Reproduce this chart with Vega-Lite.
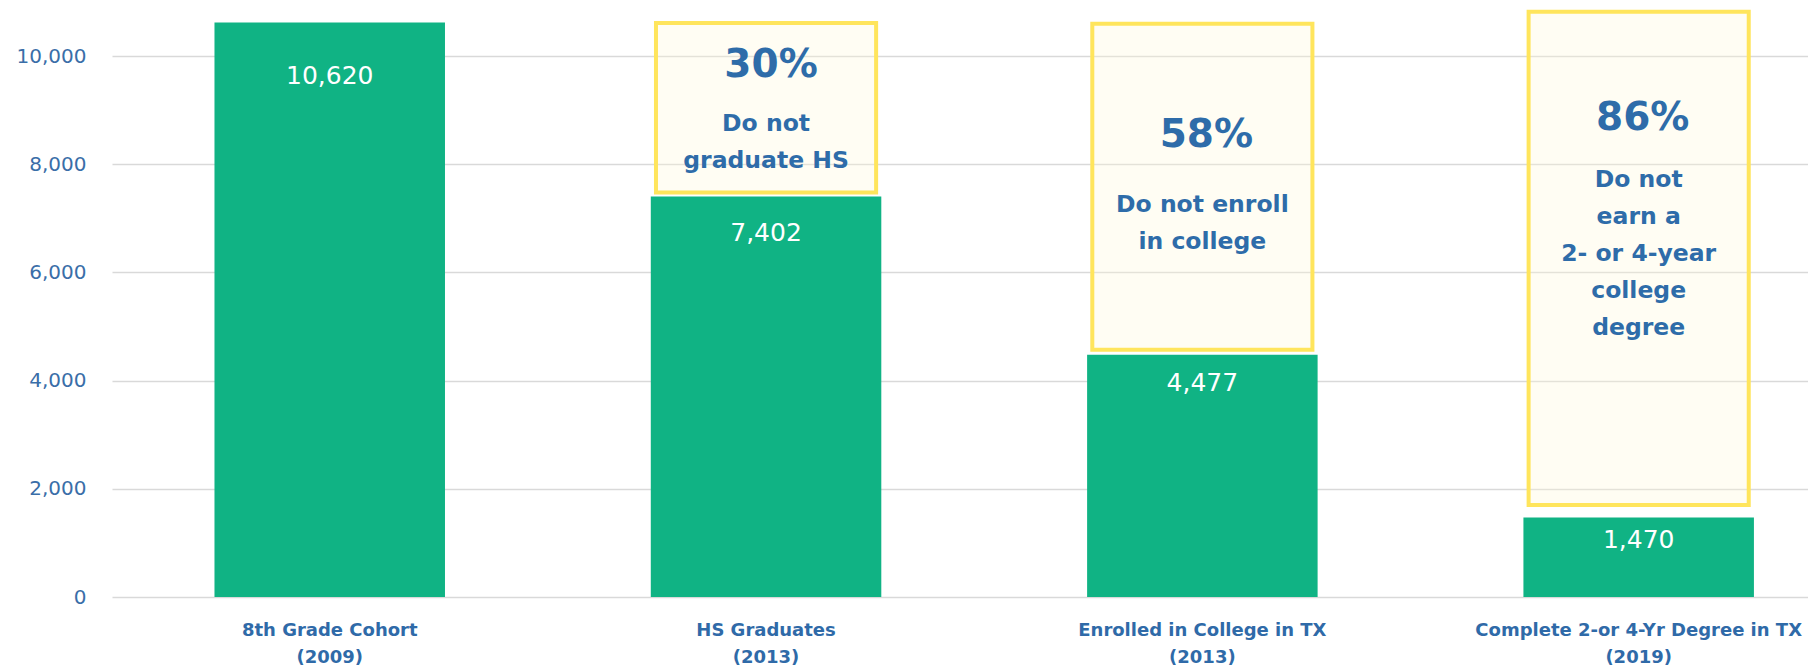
{
  "$schema": "https://vega.github.io/schema/vega-lite/v6.json",
  "width": 1696,
  "height": 595,
  "autosize": {"type": "none"},
  "padding": {"left": 112, "top": 2, "right": 0, "bottom": 69},
  "background": "white",
  "config": {"view": {"stroke": null}},
  "datasets": {
    "bars": [
      {"stage": "8th Grade Cohort (2009)", "value": 10620},
      {"stage": "HS Graduates (2013)", "value": 7402},
      {"stage": "Enrolled in College in TX (2013)", "value": 4477},
      {"stage": "Complete 2-or 4-Yr Degree in TX (2019)", "value": 1470}
    ],
    "notes": [
      {"stage": "HS Graduates (2013)", "pct": "30%", "desc": "Do not\ngraduate HS", "box_top": 10610, "box_bottom": 7480},
      {"stage": "Enrolled in College in TX (2013)", "pct": "58%", "desc": "Do not enroll\nin college", "box_top": 10600, "box_bottom": 4570},
      {"stage": "Complete 2-or 4-Yr Degree in TX (2019)", "pct": "86%", "desc": "Do not\nearn a\n2- or 4-year\ncollege\ndegree", "box_top": 10820, "box_bottom": 1700}
    ]
  },
  "data": {"name": "bars"},
  "encoding": {
    "x": {
      "field": "stage",
      "type": "nominal",
      "title": null,
      "scale": {
        "domain": ["8th Grade Cohort (2009)", "HS Graduates (2013)", "Enrolled in College in TX (2013)", "Complete 2-or 4-Yr Degree in TX (2019)"],
        "paddingInner": 0.4717,
        "paddingOuter": 0.1794,
        "align": 0.6546
      },
      "axis": {
        "labelExpr": "[slice(datum.label, 0, indexof(datum.label, ' (')), slice(datum.label, indexof(datum.label, ' (') + 1)]",
        "labelAngle": 0,
        "labelFont": "DejaVu Sans",
        "labelFontWeight": "bold",
        "labelFontSize": 18,
        "labelColor": "#2f6aa8",
        "labelPadding": 24,
        "labelLineHeight": 27,
        "labelLimit": 400,
        "labelOverlap": false,
        "ticks": false,
        "domain": false,
        "grid": false
      }
    }
  },
  "layer": [
    {
      "mark": {"type": "bar", "width": {"band": 0.955}, "fill": "#fff8d6", "fillOpacity": 0.3, "stroke": "#ffe55c", "strokeWidth": 4, "strokeOpacity": 1},
      "data": {"name": "notes"},
      "encoding": {
        "y": {"field": "box_top", "type": "quantitative", "title": null},
        "y2": {"field": "box_bottom"}
      }
    },
    {
      "mark": {"type": "bar", "color": "#10b384"},
      "encoding": {
        "y": {
          "field": "value",
          "type": "quantitative",
          "title": null,
          "scale": {"domain": [0, 11000], "nice": false},
          "axis": {
            "values": [0, 2000, 4000, 6000, 8000, 10000],
            "labelExpr": "format(datum.value, ',')",
            "title": null,
            "ticks": false,
            "domain": false,
            "gridColor": "#d9d9d9",
            "gridWidth": 1.5,
            "labelFont": "DejaVu Sans",
            "labelFontSize": 20,
            "labelColor": "#3a6ea8",
            "labelPadding": 26
          }
        }
      }
    },
    {
      "transform": [{"filter": {"field": "stage", "equal": "8th Grade Cohort (2009)"}}],
      "mark": {"type": "text", "font": "DejaVu Sans", "fontSize": 25, "fill": "#ffffff", "baseline": "middle", "dy": 53},
      "encoding": {"y": {"field": "value", "type": "quantitative", "title": null}, "text": {"field": "value", "type": "quantitative", "format": ","}}
    },
    {
      "transform": [{"filter": {"field": "stage", "equal": "HS Graduates (2013)"}}],
      "mark": {"type": "text", "font": "DejaVu Sans", "fontSize": 25, "fill": "#ffffff", "baseline": "middle", "dy": 36},
      "encoding": {"y": {"field": "value", "type": "quantitative", "title": null}, "text": {"field": "value", "type": "quantitative", "format": ","}}
    },
    {
      "transform": [{"filter": {"field": "stage", "equal": "Enrolled in College in TX (2013)"}}],
      "mark": {"type": "text", "font": "DejaVu Sans", "fontSize": 25, "fill": "#ffffff", "baseline": "middle", "dy": 28},
      "encoding": {"y": {"field": "value", "type": "quantitative", "title": null}, "text": {"field": "value", "type": "quantitative", "format": ","}}
    },
    {
      "transform": [{"filter": {"field": "stage", "equal": "Complete 2-or 4-Yr Degree in TX (2019)"}}],
      "mark": {"type": "text", "font": "DejaVu Sans", "fontSize": 25, "fill": "#ffffff", "baseline": "middle", "dy": 23},
      "encoding": {"y": {"field": "value", "type": "quantitative", "title": null}, "text": {"field": "value", "type": "quantitative", "format": ","}}
    },
    {
      "data": {"name": "notes"},
      "transform": [{"filter": {"field": "stage", "equal": "HS Graduates (2013)"}}],
      "encoding": {"y": {"field": "box_top", "type": "quantitative", "title": null}},
      "layer": [
        {"mark": {"type": "text", "font": "DejaVu Sans", "fontWeight": "bold", "fontSize": 39, "fill": "#2e6ca9", "baseline": "middle", "dx": 5, "dy": 42}, "encoding": {"text": {"field": "pct"}}},
        {"mark": {"type": "text", "font": "DejaVu Sans", "fontWeight": "bold", "fontSize": 23.5, "fill": "#2e6ca9", "baseline": "middle", "lineBreak": "\n", "lineHeight": 36.5, "dy": 101}, "encoding": {"text": {"field": "desc"}}}
      ]
    },
    {
      "data": {"name": "notes"},
      "transform": [{"filter": {"field": "stage", "equal": "Enrolled in College in TX (2013)"}}],
      "encoding": {"y": {"field": "box_top", "type": "quantitative", "title": null}},
      "layer": [
        {"mark": {"type": "text", "font": "DejaVu Sans", "fontWeight": "bold", "fontSize": 39, "fill": "#2e6ca9", "baseline": "middle", "dx": 4, "dy": 111}, "encoding": {"text": {"field": "pct"}}},
        {"mark": {"type": "text", "font": "DejaVu Sans", "fontWeight": "bold", "fontSize": 23.5, "fill": "#2e6ca9", "baseline": "middle", "lineBreak": "\n", "lineHeight": 37, "dy": 181}, "encoding": {"text": {"field": "desc"}}}
      ]
    },
    {
      "data": {"name": "notes"},
      "transform": [{"filter": {"field": "stage", "equal": "Complete 2-or 4-Yr Degree in TX (2019)"}}],
      "encoding": {"y": {"field": "box_top", "type": "quantitative", "title": null}},
      "layer": [
        {"mark": {"type": "text", "font": "DejaVu Sans", "fontWeight": "bold", "fontSize": 39, "fill": "#2e6ca9", "baseline": "middle", "dx": 4, "dy": 106}, "encoding": {"text": {"field": "pct"}}},
        {"mark": {"type": "text", "font": "DejaVu Sans", "fontWeight": "bold", "fontSize": 23.5, "fill": "#2e6ca9", "baseline": "middle", "lineBreak": "\n", "lineHeight": 37, "dy": 168}, "encoding": {"text": {"field": "desc"}}}
      ]
    }
  ]
}
